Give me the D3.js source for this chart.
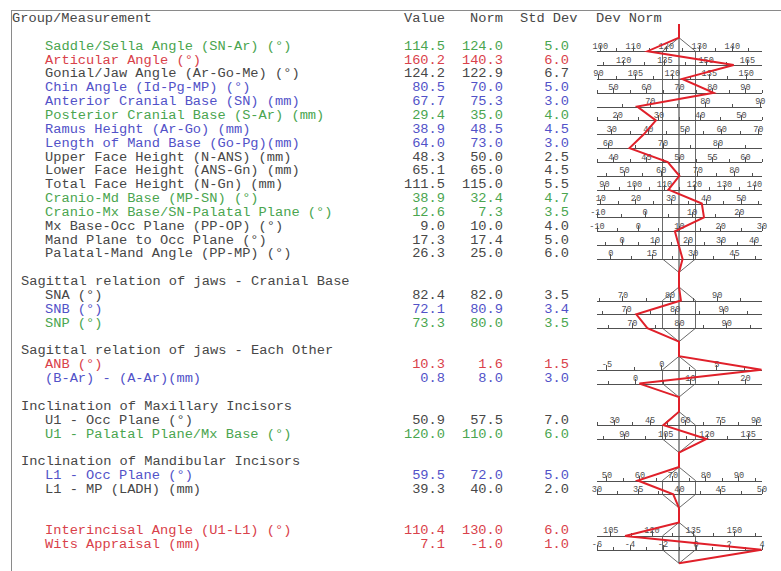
<html>
<head>
	<meta charset="utf-8">
	<title>ceph analysis</title>
	<script src="https://cdn.jsdelivr.net/npm/d3@7"></script>
	<style>
		body { margin: 0; background: #fff; }
		svg text { font-family: "Liberation Mono", "DejaVu Sans Mono", monospace; }
		.cell { font-size: 13.7px; }
		.axis text { font-size: 8.6px; fill: #505050; }
		.axis path, .axis line { stroke: #505050; shape-rendering: crispEdges; }
	</style>
</head>
<body>
<svg id="chart" width="781" height="571"></svg>
<script>

// rows of the table
var names = [
	"Saddle/Sella Angle (SN-Ar) (°)", "Articular Angle (°)", "Gonial/Jaw Angle (Ar-Go-Me) (°)",
	"Chin Angle (Id-Pg-MP) (°)", "Anterior Cranial Base (SN) (mm)", "Posterior Cranial Base (S-Ar) (mm)",
	"Ramus Height (Ar-Go) (mm)", "Length of Mand Base (Go-Pg)(mm)", "Upper Face Height (N-ANS) (mm)",
	"Lower Face Height (ANS-Gn) (mm)", "Total Face Height (N-Gn) (mm)", "Cranio-Md Base (MP-SN) (°)",
	"Cranio-Mx Base/SN-Palatal Plane (°)", "Mx Base-Occ Plane (PP-OP) (°)", "Mand Plane to Occ Plane (°)",
	"Palatal-Mand Angle (PP-MP) (°)",
	"SNA (°)", "SNB (°)", "SNP (°)",
	"ANB (°)", "(B-Ar) - (A-Ar)(mm)",
	"U1 - Occ Plane (°)", "U1 - Palatal Plane/Mx Base (°)",
	"L1 - Occ Plane (°)", "L1 - MP (LADH) (mm)",
	"Interincisal Angle (U1-L1) (°)", "Wits Appraisal (mm)"
];
var values = [114.5, 160.2, 124.2, 80.5, 67.7, 29.4, 38.9, 64.0, 48.3, 65.1, 111.5, 38.9, 12.6, 9.0, 17.3, 26.3,
	82.4, 72.1, 73.3, 10.3, 0.8, 50.9, 120.0, 59.5, 39.3, 110.4, 7.1];
var norms = [124.0, 140.3, 122.9, 70.0, 75.3, 35.0, 48.5, 73.0, 50.0, 65.0, 115.0, 32.4, 7.3, 10.0, 17.4, 25.0,
	82.0, 80.9, 80.0, 1.6, 8.0, 57.5, 110.0, 72.0, 40.0, 130.0, -1.0];
var sds = [5.0, 6.0, 6.7, 5.0, 3.0, 4.0, 4.5, 3.0, 2.5, 4.5, 5.5, 4.7, 3.5, 4.0, 5.0, 6.0,
	3.5, 3.4, 3.5, 1.5, 3.0, 7.0, 6.0, 5.0, 2.0, 6.0, 1.0];
var tones = ["g", "r", "k", "b", "b", "g", "b", "b", "k", "k", "k", "g", "g", "k", "k", "k",
	"k", "b", "g", "r", "b", "k", "g", "b", "k", "r", "r"];
// label step of each row's scale
var tickSteps = [10, 15, 15, 10, 10, 10, 10, 10, 5, 10, 10, 10, 10, 10, 10, 15,
	10, 10, 10, 5, 10, 15, 15, 10, 5, 15, 2];

// groups
var groupTitles = [null, "Sagittal relation of jaws - Cranial Base", "Sagittal relation of jaws - Each Other",
	"Inclination of Maxillary Incisors", "Inclination of Mandibular Incisors", null];
var groupSizes = [16, 3, 2, 2, 2, 2];

var toneColor = { g: "#4aa54f", r: "#d9414a", k: "#474747", b: "#5252c8" };

var svg = d3.select("#chart");
var cx = 679, sdPx = 16.5;
var rowY = function(r) { return 17.5 + 13.85 * r; };

// frame
svg.append("line").attr("x1", 11).attr("x2", 781).attr("y1", 10.5).attr("y2", 10.5).attr("stroke", "#8a8a8a");
svg.append("line").attr("x1", 11.5).attr("x2", 11.5).attr("y1", 10).attr("y2", 571).attr("stroke", "#8a8a8a");

// header
var header = [["Group/Measurement", 12], ["Value", 404], ["Norm", 470], ["Std Dev", 520], ["Dev Norm", 596]];
header.forEach(function(h) {
	svg.append("text").attr("class", "cell").attr("x", h[1]).attr("y", rowY(0) + 4.5)
		.attr("fill", "#474747").text(h[0]);
});

// assign rows
var rowOf = [], groupRows = [];
var r = 0, idx = 0;
groupSizes.forEach(function(n, g) {
	r += (g === 0) ? 1 : 2;
	if (groupTitles[g]) {
		svg.append("text").attr("class", "cell").attr("x", 21).attr("y", rowY(r) + 4.5)
			.attr("fill", "#474747").text(groupTitles[g]);
	}
	var list = [];
	for (var k = 0; k < n; k++) {
		r++;
		rowOf[idx] = r;
		list.push(idx);
		idx++;
	}
	groupRows.push(list);
});

var fmt = d3.format(".1f");
var chartG = svg.append("g");
var hexG = chartG.append("g");
var axisG = chartG.append("g");
var scales = [];

names.forEach(function(name, i) {
	var y = rowY(rowOf[i]);
	var col = toneColor[tones[i]];
	svg.append("text").attr("class", "cell").attr("x", 45).attr("y", y + 4.5).attr("fill", col).text(name);
	[[values[i], 445], [norms[i], 503], [sds[i], 569]].forEach(function(c) {
		svg.append("text").attr("class", "cell").attr("x", c[1]).attr("y", y + 4.5)
			.attr("text-anchor", "end").attr("fill", col).text(fmt(c[0]).replace("−", "-"));
	});

	var lo = norms[i] - 5 * sds[i], hi = norms[i] + 5 * sds[i];
	var x = d3.scaleLinear().domain([lo, hi]).range([cx - 5 * sdPx, cx + 5 * sdPx]).clamp(true);
	scales.push(x);
	var step = tickSteps[i];
	var majors = d3.range(Math.ceil(lo / step - 1e-9) * step, hi + 1e-9, step);
	var minors = d3.range((Math.ceil(lo / step - 0.5 - 1e-9) + 0.5) * step, hi + 1e-9, step);
	var ly = y + 6;
	axisG.append("g").attr("class", "axis").attr("transform", "translate(0," + ly + ")")
		.call(d3.axisTop(x).tickValues(minors).tickSize(3).tickSizeOuter(0).tickFormat(""));
	axisG.append("g").attr("class", "axis").attr("transform", "translate(0," + ly + ")")
		.call(d3.axisTop(x).tickValues(majors).tickSize(5).tickSizeOuter(0).tickPadding(-2.5)
			.tickFormat(function(d) { return d3.format("d")(d).replace("−", "-"); }))
		.call(function(g) { g.select(".domain").remove(); });
});

// hexagon bands and red deviation line
var line = d3.line();
var redPts = [[cx, 24]];
groupRows.forEach(function(list) {
	var top = rowY(rowOf[list[0]]) + 6, bot = rowY(rowOf[list[list.length - 1]]) + 6;
	var hex = [[cx, top - 13.5], [cx + sdPx, top], [cx + sdPx, bot], [cx, bot + 13.5],
		[cx - sdPx, bot], [cx - sdPx, top], [cx, top - 13.5]];
	hexG.append("path").attr("d", line(hex)).attr("fill", "none").attr("stroke", "#6a6a6a");
	hexG.append("line").attr("x1", cx).attr("x2", cx).attr("y1", top - 13.5).attr("y2", bot + 13.5)
		.attr("stroke", "#333");
	redPts.push([cx, top - 13.5]);
	list.forEach(function(i) {
		redPts.push([scales[i](values[i]), rowY(rowOf[i]) + 6]);
	});
	redPts.push([cx, bot + 13.5]);
});

chartG.append("path").attr("d", line(redPts)).attr("fill", "none")
	.attr("stroke", "#e0202a").attr("stroke-width", 2).attr("stroke-linejoin", "miter");

</script>
</body>
</html>
